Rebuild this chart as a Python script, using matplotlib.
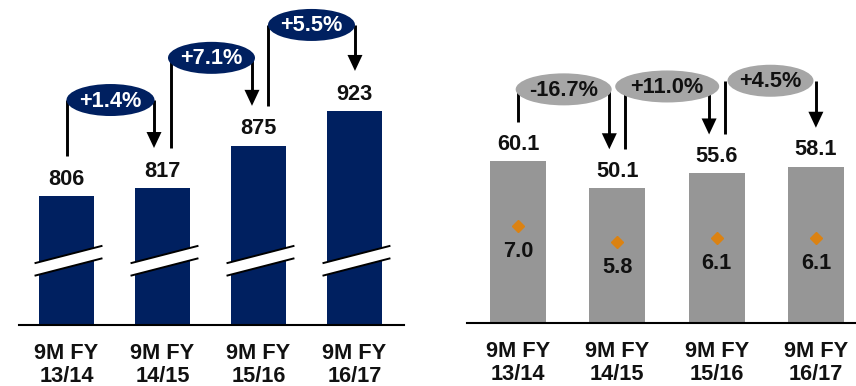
import matplotlib
matplotlib.use('Agg')
import matplotlib.pyplot as plt
from matplotlib.patches import Ellipse, Polygon
from matplotlib.lines import Line2D
from matplotlib.transforms import Affine2D

W, H = 856, 386

# ---- data ----
categories = ['9M FY\n13/14', '9M FY\n14/15', '9M FY\n15/16', '9M FY\n16/17']
left_values = [806, 817, 875, 923]
left_changes = ['+1.4%', '+7.1%', '+5.5%']
right_values = [60.1, 50.1, 55.6, 58.1]
right_changes = ['-16.7%', '+11.0%', '+4.5%']
right_points = [7.0, 5.8, 6.1, 6.1]

# ---- style ----
NAVY = '#002060'
GRAY = '#969696'
LGRAY = '#A6A6A6'
ORANGE = '#DB8212'
FS = 15.7
TXT = '#111111'

plt.rcParams['font.family'] = ['Liberation Sans', 'DejaVu Sans']
plt.rcParams['font.weight'] = 'bold'

fig = plt.figure(figsize=(W / 100, H / 100), dpi=100)
PX = Affine2D().scale(1 / W, -1 / H).translate(0, 1) + fig.transFigure
PXI = PX.inverted()


def add_axes_px(x0, x1, ytop, ybot):
    ax = fig.add_axes([x0 / W, (H - ybot) / H, (x1 - x0) / W, (ybot - ytop) / H])
    ax.axis('off')
    return ax


def to_px(ax, x, y):
    return PXI.transform(ax.transData.transform((x, y)))


def draw_panel(ax, x0, x1, base, values, color, changes, dl, dr, eoff, ew,
               efc, etc, gap, breaks=False):
    xs = list(range(len(values)))
    ax.bar(xs, values, width=BW[ax], color=color, zorder=2)
    for i, v in enumerate(values):
        ax.annotate(VFMT[ax](v), (i, v), xytext=(0, 12.2), textcoords='offset points',
                    ha='center', va='center', fontsize=FS, fontweight='bold', color=TXT)
    fig.add_artist(Line2D([x0, x1], [base, base], transform=PX, color='black', lw=1.5))
    cx = [to_px(ax, i, 0)[0] for i in xs]
    tops = [to_px(ax, i, v)[1] for i, v in enumerate(values)]
    for i, lab in enumerate(categories):
        fig.text(cx[i], base + 40, lab, transform=PX, ha='center', va='center', color=TXT,
                 fontsize=FS, fontweight='bold', linespacing=1.15, multialignment='center')
    if breaks:
        for c in cx:
            xa, xb = c - 31, c + 35
            fig.add_artist(Polygon([(xa, 263), (xb, 246), (xb, 258.5), (xa, 275.5)],
                                   closed=True, transform=PX, facecolor='white',
                                   edgecolor='none', zorder=3))
            for ya, yb in [(263, 246), (275.5, 258.5)]:
                fig.add_artist(Line2D([xa, xb], [ya, yb], transform=PX, color='black',
                                      lw=1.4, zorder=4))
    for k, txt in enumerate(changes):
        i, j = k, k + 1
        xl = cx[i] + dl[k]
        xr = cx[j] + dr[k]
        ye = min(tops[i], tops[j]) - eoff[k]
        yb_l = tops[i] - gap
        tip = tops[j] - gap
        hl, hw = 16, 15
        fig.add_artist(Line2D([xl, xl], [ye, yb_l], transform=PX, color='black', lw=2.1,
                              solid_capstyle='butt', zorder=5))
        fig.add_artist(Line2D([xr, xr], [ye, tip - hl + 1], transform=PX, color='black', lw=2.1,
                              solid_capstyle='butt', zorder=5))
        fig.add_artist(Polygon([(xr - hw / 2, tip - hl), (xr + hw / 2, tip - hl), (xr, tip)],
                               closed=True, transform=PX, facecolor='black',
                               edgecolor='none', zorder=5))
        xc = (xl + xr) / 2
        fig.add_artist(Ellipse((xc, ye), ew[k], 32, transform=PX, facecolor=efc,
                               edgecolor='none', zorder=6))
        fig.text(xc, ye + 1, txt, transform=PX, ha='center', va='center', fontsize=FS,
                 fontweight='bold', color=etc, zorder=7)


BW = {}
VFMT = {}

# ---- left panel ----
axL = add_axes_px(19, 404, 0, 325)
axL.set_xlim(-0.495, 3.516)
axL.set_ylim(628.6, 1075.6)
BW[axL] = 0.573
VFMT[axL] = lambda v: f'{v:d}'

# ---- right panel ----
axR = add_axes_px(467, 856, 0, 323)
axR.set_xlim(-0.514, 3.404)
axR.set_ylim(0, 120.1)
BW[axR] = 0.564
VFMT[axR] = lambda v: f'{v:.1f}'

draw_panel(axL, 19, 404, 325, left_values, NAVY, left_changes,
           dl=[0.5, 8.5, 9.5], dr=[-8.5, -6.5, 0.5], eoff=[88, 88, 86],
           ew=[88, 87, 87], efc=NAVY, etc='white', gap=40, breaks=True)

draw_panel(axR, 467, 856, 323, right_values, GRAY, right_changes,
           dl=[0, 8, 8.5], dr=[-8, -7.5, 0], eoff=[72, 87, 86],
           ew=[96, 104, 86], efc=LGRAY, etc=TXT, gap=39)

axR2 = axR.twinx()
axR2.axis('off')
axR2.set_ylim(-0.275, 23.95)
axR2.plot(range(len(right_points)), right_points, linestyle='none', marker='D',
          ms=6.6, color=ORANGE, zorder=4)
for i, v in enumerate(right_points):
    axR2.annotate(f'{v:.1f}', (i, v), xytext=(0, -18.7), textcoords='offset points',
                  ha='center', va='center', fontsize=FS, fontweight='bold', color=TXT)

fig.savefig('out.png', dpi=100)
